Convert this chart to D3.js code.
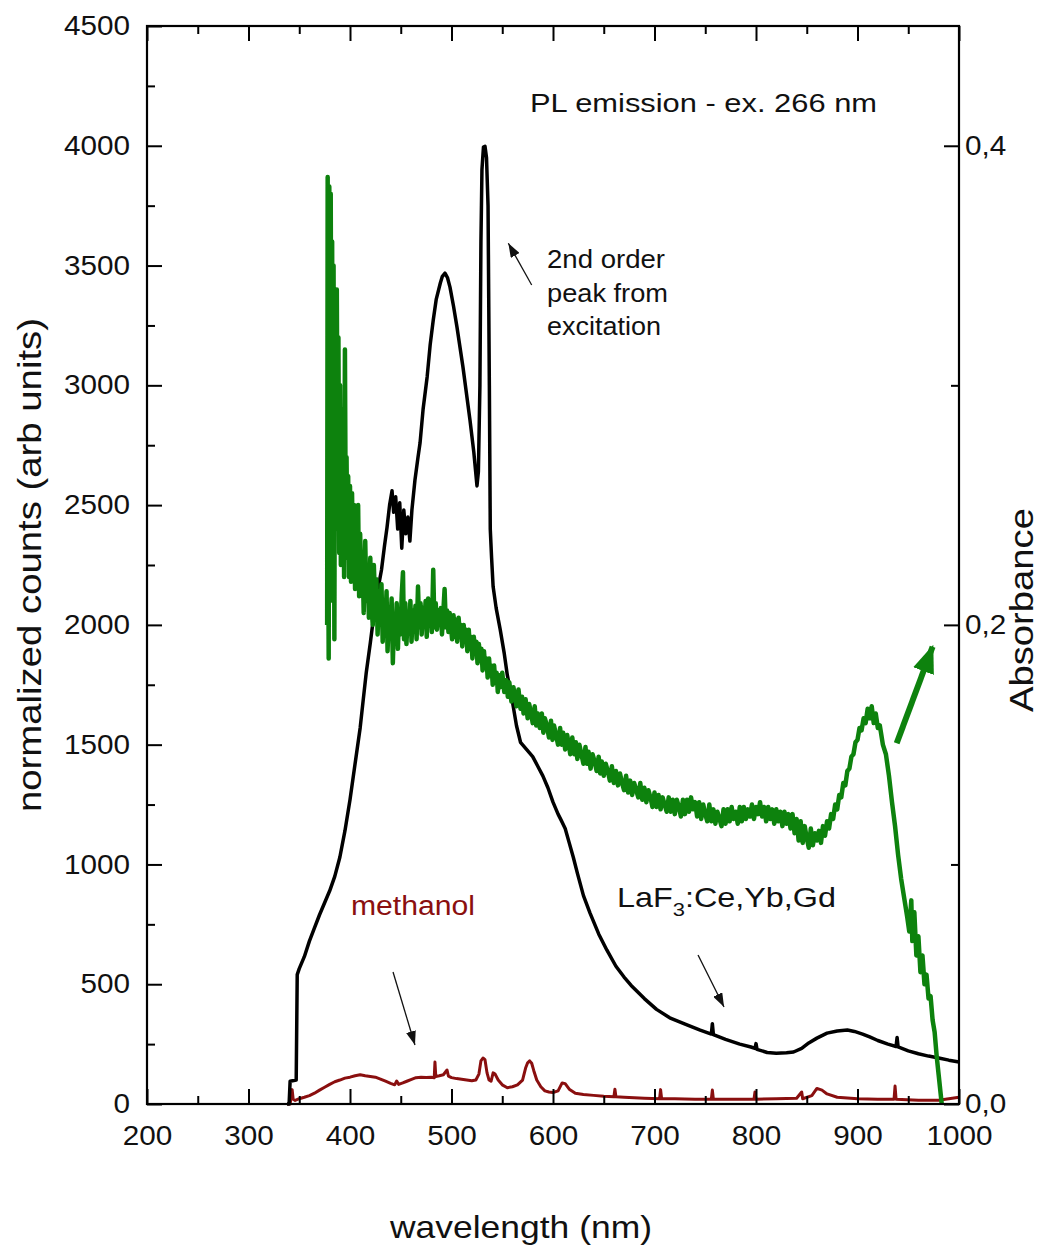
<!DOCTYPE html>
<html><head><meta charset="utf-8">
<script src="https://cdn.jsdelivr.net/npm/d3@7"></script>
<style>
body{margin:0;background:#fff;}
text{font-family:"Liberation Sans",Arial,Helvetica,sans-serif;fill:#111;}
</style>
</head><body>
<svg id="chart" width="1043" height="1251"></svg>
<script>
// ---------- DATA ----------
const wavelengthTicks = [200,300,400,500,600,700,800,900,1000];
const wavelengthMinor = [250,350,450,550,650,750,850,950];
const countTicks = [0,500,1000,1500,2000,2500,3000,3500,4000,4500];
const countMinor = [250,750,1250,1750,2250,2750,3250,3750,4250];
const absTicks = [0,0.2,0.4];
const absTickLabels = ["0,0","0,2","0,4"];
const absMinor = [0.1,0.3];

// LaF3:Ce,Yb,Gd PL emission [nm, counts]
const lafSpectrum = [[338,0],[340,0],[341,95],[347,100],[348,540],[350,565],[355,615],[360,680],[365,735],[370,790],[375,840],[380,890],[385,950],[390,1030],[395,1140],[400,1270],[405,1420],[410,1570],[413,1686],[416,1800],[420,1924],[425,2091],[428,2160],[431,2229],[434,2330],[436.5,2408],[439,2500],[441.4,2560],[443,2470],[445,2535],[447,2400],[449,2510],[451,2320],[453,2480],[455,2380],[457,2450],[459,2350],[461,2480],[464,2605],[467,2700],[469,2759],[472,2900],[476,3035],[479,3170],[482,3272],[485,3360],[489,3427],[491,3455],[493.6,3468],[496,3450],[498.5,3410],[502,3330],[505.4,3243],[511.3,3076],[518.2,2855],[522,2720],[525.1,2580],[526.5,2640],[528,3000],[529,3600],[530,3900],[531.5,3995],[533,3998],[534.5,3950],[536,3750],[537.3,3000],[538.2,2400],[539.5,2280],[541,2160],[544,2070],[548,1980],[552,1880],[555,1790],[560,1680],[564,1580],[568,1510],[572,1490],[576,1470],[580,1450],[585,1410],[590,1370],[595,1320],[600,1260],[605,1210],[608,1185],[612,1150],[616,1090],[620,1030],[624,964],[630,870],[636.5,797],[645,710],[653,643],[662,575],[670,530],[677,495],[690,440],[702,395],[715,360],[732,330],[745,308],[756,292],[757,335],[758,290],[770,270],[784,250],[795,238],[799,232],[800,252],[801,228],[811,215],[820,212],[830,214],[837,217],[845,232],[852,255],[860,275],[870,296],[880,305],[890,309],[897,303],[905,292],[912,280],[920,265],[930,250],[938,240],[939,278],[940,238],[950,222],[960,210],[970,200],[980,192],[990,183],[1000,175]];

// methanol PL [nm, counts]
const methanolSpectrum = [[338,0],[341,0],[342,30],[343,60],[344,20],[346,15],[350,22],[355,28],[360,35],[365,45],[370,58],[375,70],[380,82],[385,93],[390,100],[395,108],[400,112],[405,118],[410,122],[415,118],[420,115],[425,112],[430,104],[435,95],[440,86],[444,80],[446,96],[448,82],[452,88],[456,95],[460,102],[465,110],[470,112],[475,111],[480,112],[483,110],[483.7,175],[484.5,115],[488,118],[492,122],[495.6,142],[497,116],[500,110],[505,106],[510,103],[515,100],[520,97],[524,100],[527,125],[529,180],[531,192],[533,185],[535,130],[537,100],[539,95],[541,130],[543,125],[546,100],[550,80],[555,68],[560,72],[565,80],[570,100],[573,150],[575,172],[577,180],[579,170],[581,140],[584,100],[588,72],[592,55],[596,50],[600,48],[605,55],[609,88],[612,85],[616,62],[622,45],[630,40],[640,36],[650,32],[660,30],[661,62],[662,30],[670,28],[680,26],[690,24],[705,22],[706,60],[707,22],[720,22],[740,20],[756,20],[757,58],[758,20],[780,20],[798,20],[799,50],[800,20],[820,22],[840,24],[845,50],[846,22],[855,35],[860,65],[865,58],[870,42],[880,28],[900,22],[920,20],[936,20],[937,75],[938,20],[960,16],[980,16],[990,22],[1000,28]];

// absorbance [nm, A]
const absorbanceSpectrum = [[377.5,0.20],[378.0,0.387],[378.6,0.23],[379.0,0.186],[379.6,0.383],[380.4,0.30],[381.0,0.38],[381.8,0.26],[382.4,0.36],[383.2,0.21],[383.8,0.35],[384.6,0.194],[385.3,0.33],[386.2,0.25],[387.0,0.34],[388.0,0.24],[388.6,0.32],[389.4,0.23],[390.2,0.30],[391.0,0.225],[391.8,0.29],[392.6,0.24],[393.4,0.27],[394.2,0.22],[395.0,0.315],[395.8,0.24],[396.6,0.27],[397.4,0.228],[398.2,0.262],[399.0,0.22],[400.0,0.258],[401.0,0.218],[402.0,0.255],[403.0,0.225],[404.0,0.25],[405.0,0.215],[406.0,0.245],[407.0,0.222],[408.0,0.25],[409.0,0.212],[410.0,0.238],[411.2,0.215],[412.4,0.228],[413.5,0.205],[415.0,0.235],[416.2,0.21],[417.5,0.224],[418.6,0.203],[420.0,0.228],[421.0,0.209],[422.4,0.2],[423.5,0.225],[425.0,0.206],[426.0,0.219],[427.2,0.196],[428.5,0.214],[429.6,0.202],[431.0,0.217],[432.2,0.193],[433.5,0.21],[434.6,0.198],[436.0,0.214],[437.0,0.189],[438.4,0.207],[439.5,0.197],[441.0,0.211],[442.2,0.184],[443.5,0.204],[444.6,0.193],[446.0,0.209],[447.2,0.19],[448.4,0.206],[449.6,0.196],[451.0,0.213],[452.2,0.222],[453.2,0.194],[454.5,0.209],[455.6,0.192],[457.0,0.205],[458.2,0.197],[459.5,0.21],[460.6,0.193],[462.0,0.206],[463.2,0.198],[464.5,0.208],[465.6,0.194],[467.0,0.216],[468.2,0.199],[469.5,0.209],[470.6,0.196],[472.0,0.207],[473.2,0.2],[474.5,0.21],[475.6,0.195],[477.0,0.211],[478.2,0.201],[479.5,0.208],[480.6,0.197],[482.0,0.223],[483.2,0.199],[484.5,0.209],[485.6,0.198],[487.0,0.206],[488.2,0.2],[489.5,0.207],[490.6,0.196],[492.0,0.206],[493.2,0.215],[494.5,0.199],[495.6,0.206],[497.0,0.197],[498.2,0.205],[499.5,0.199],[500.6,0.194],[502.0,0.204],[503.2,0.195],[504.5,0.202],[505.6,0.193],[507.0,0.203],[508.2,0.196],[509.5,0.2],[510.6,0.191],[512.0,0.2],[513.2,0.193],[514.5,0.198],[515.6,0.189],[517.0,0.198],[518.2,0.19],[519.5,0.195],[520.6,0.186],[522.0,0.195],[523.2,0.188],[524.5,0.193],[525.6,0.184],[527.0,0.192],[528.2,0.185],[529.5,0.19],[530.6,0.181],[532.0,0.189],[533.2,0.182],[534.5,0.186],[535.6,0.178],[537.0,0.186],[538.2,0.179],[539.5,0.183],[540.6,0.175],[542.0,0.183],[543.2,0.176],[544.5,0.18],[545.6,0.172],[547.0,0.179],[548,0.174],[550,0.180],[552,0.172],[554,0.177],[555.5,0.170],[557,0.176],[559,0.168],[561,0.174],[562.5,0.170],[564,0.166],[566,0.173],[568,0.165],[569.5,0.170],[571,0.163],[573,0.169],[575,0.161],[576.5,0.167],[578,0.164],[580,0.159],[582,0.166],[583.5,0.158],[585,0.163],[587,0.157],[589,0.163],[590.5,0.155],[592,0.161],[594,0.158],[596,0.153],[598,0.160],[599.5,0.152],[601,0.158],[603,0.154],[605,0.150],[607,0.157],[608.5,0.150],[610,0.155],[612,0.148],[614,0.154],[615.5,0.150],[617,0.146],[619,0.153],[621,0.146],[622.5,0.151],[624,0.144],[626,0.150],[628,0.146],[630,0.142],[632,0.149],[633.5,0.142],[635,0.147],[637,0.140],[639,0.146],[641,0.143],[643,0.139],[645,0.145],[646.5,0.138],[648,0.143],[650,0.137],[652,0.142],[654,0.139],[656,0.135],[658,0.141],[660,0.134],[662,0.139],[664,0.133],[666,0.138],[668,0.134],[670,0.131],[672,0.137],[674,0.130],[676,0.135],[678,0.129],[680,0.134],[682,0.131],[684,0.128],[686,0.134],[688,0.127],[690,0.132],[692,0.126],[694,0.131],[696,0.128],[698,0.124],[700,0.130],[702,0.124],[704,0.129],[706,0.123],[708,0.128],[710,0.125],[712,0.122],[714,0.128],[716,0.122],[718,0.127],[720,0.121],[722,0.127],[724,0.124],[726,0.120],[728,0.127],[730,0.121],[732,0.127],[734,0.122],[736,0.128],[738,0.123],[740,0.126],[742,0.120],[744,0.126],[746,0.119],[748,0.125],[750,0.121],[752,0.118],[754,0.125],[756,0.118],[758,0.123],[760,0.117],[762,0.122],[764,0.119],[766,0.116],[768,0.123],[770,0.117],[772,0.123],[774,0.118],[776,0.124],[778,0.119],[780,0.122],[782,0.117],[784,0.124],[786,0.118],[788,0.124],[790,0.119],[792,0.123],[794,0.120],[796,0.125],[798,0.119],[800,0.124],[802,0.121],[804,0.126],[806,0.120],[808,0.124],[810,0.118],[812,0.124],[814,0.119],[816,0.123],[818,0.117],[820,0.123],[822,0.118],[824,0.122],[826,0.116],[828,0.122],[830,0.117],[832,0.121],[834,0.115],[836,0.121],[838,0.113],[840,0.119],[842,0.110],[844,0.118],[846,0.109],[848,0.116],[850,0.111],[852,0.107],[854,0.115],[856,0.108],[858,0.113],[860,0.110],[862,0.114],[864,0.109],[866,0.116],[868,0.112],[870,0.118],[872,0.115],[874,0.121],[876,0.119],[878,0.125],[880,0.123],[882,0.129],[884,0.128],[886,0.134],[888,0.133],[890,0.139],[892,0.140],[894,0.145],[896,0.146],[898,0.151],[900,0.152],[902,0.157],[904,0.156],[906,0.161],[908,0.159],[910,0.165],[912,0.161],[914,0.166],[916,0.159],[918,0.163],[920,0.157],[922,0.158],[925,0.150],[928,0.146],[931,0.137],[934,0.126],[937,0.116],[940,0.104],[943,0.094],[946,0.086],[949,0.078],[951,0.072],[953,0.085],[954,0.068],[956,0.080],[958,0.062],[960,0.070],[962,0.055],[964,0.062],[966,0.050],[968,0.054],[970,0.044],[972,0.045],[974,0.035],[976,0.03],[978,0.02],[980,0.012],[982,0.004],[983,0.0]];

// ---------- LAYOUT ----------
const svg = d3.select("#chart");
const L = 147, R = 959, T = 26, B = 1104;
const x = d3.scaleLinear().domain([200,1000]).range([L,R]);
const y = d3.scaleLinear().domain([0,4500]).range([B,T]);
const yR = d3.scaleLinear().domain([0,0.45]).range([B,T]);

const RED = "#8a0f0f", GREEN = "#0d820d";

function stretch(sel, f){ sel.each(function(){ const w=this.getComputedTextLength(); this.setAttribute("textLength", w*f); this.setAttribute("lengthAdjust","spacingAndGlyphs"); }); }
function fitTo(sel, w){ sel.attr("textLength", w).attr("lengthAdjust","spacingAndGlyphs"); }

// arrow markers
const defs = svg.append("defs");
defs.append("marker").attr("id","thin").attr("markerUnits","userSpaceOnUse")
  .attr("viewBox","0 0 14 10").attr("refX",14).attr("refY",5)
  .attr("markerWidth",14).attr("markerHeight",10).attr("orient","auto")
  .append("path").attr("d","M0,0 L14,5 L0,10 Z").attr("fill","#111");
defs.append("marker").attr("id","thick").attr("markerUnits","userSpaceOnUse")
  .attr("viewBox","0 0 28 22").attr("refX",26).attr("refY",11)
  .attr("markerWidth",28).attr("markerHeight",22).attr("orient","auto")
  .append("path").attr("d","M0,0 L28,11 L0,22 Z").attr("fill",GREEN);

// ---------- SERIES ----------
const lineC = d3.line().x(d=>x(d[0])).y(d=>y(d[1]));
const lineA = d3.line().x(d=>x(d[0])).y(d=>yR(d[1]));

svg.append("path").datum(methanolSpectrum).attr("d",lineC)
  .attr("fill","none").attr("stroke",RED).attr("stroke-width",3).attr("stroke-linejoin","round");
svg.append("path").datum(lafSpectrum).attr("d",lineC)
  .attr("fill","none").attr("stroke","#000").attr("stroke-width",3.5).attr("stroke-linejoin","round");
svg.append("path").datum(absorbanceSpectrum).attr("d",lineA)
  .attr("fill","none").attr("stroke",GREEN).attr("stroke-width",4.5).attr("stroke-linejoin","round");

// ---------- AXES ----------
function styleAxis(g){ g.select(".domain").remove(); g.selectAll(".tick line").attr("stroke","#000").attr("stroke-width",2); g.selectAll("text").style("font-size","27px").attr("fill","#111"); }

svg.append("g").attr("transform",`translate(0,${B})`)
  .call(d3.axisBottom(x).tickValues(wavelengthTicks).tickSize(-15).tickPadding(22).tickFormat(d3.format("d"))).call(styleAxis);
svg.append("g").attr("transform",`translate(0,${B})`)
  .call(d3.axisBottom(x).tickValues(wavelengthMinor).tickSize(-8).tickFormat("")).call(styleAxis);
svg.append("g").attr("transform",`translate(0,${T})`)
  .call(d3.axisTop(x).tickValues(wavelengthTicks).tickSize(-15).tickFormat("")).call(styleAxis);
svg.append("g").attr("transform",`translate(0,${T})`)
  .call(d3.axisTop(x).tickValues(wavelengthMinor).tickSize(-8).tickFormat("")).call(styleAxis);
svg.append("g").attr("transform",`translate(${L},0)`)
  .call(d3.axisLeft(y).tickValues(countTicks).tickSize(-15).tickPadding(17).tickFormat(d3.format("d"))).call(styleAxis);
svg.append("g").attr("transform",`translate(${L},0)`)
  .call(d3.axisLeft(y).tickValues(countMinor).tickSize(-8).tickFormat("")).call(styleAxis);
svg.append("g").attr("transform",`translate(${R},0)`)
  .call(d3.axisRight(yR).tickValues(absTicks).tickSize(-15).tickPadding(6).tickFormat((d,i)=>absTickLabels[i])).call(styleAxis);
svg.append("g").attr("transform",`translate(${R},0)`)
  .call(d3.axisRight(yR).tickValues(absMinor).tickSize(-8).tickFormat("")).call(styleAxis);

svg.append("rect").attr("x",L).attr("y",T).attr("width",R-L).attr("height",B-T)
  .attr("fill","none").attr("stroke","#000").attr("stroke-width",2.2);

stretch(svg.selectAll(".tick text"), 1.1);

// ---------- TITLES ----------
svg.append("text").attr("x",521).attr("y",1238).attr("text-anchor","middle")
  .style("font-size","32px").text("wavelength (nm)").call(s=>fitTo(s,262));
svg.append("text").attr("transform","translate(41,565) rotate(-90)").attr("text-anchor","middle")
  .style("font-size","34px").text("normalized counts (arb units)").call(s=>fitTo(s,494));
svg.append("text").attr("transform","translate(1033,610) rotate(-90)").attr("text-anchor","middle")
  .style("font-size","34px").text("Absorbance").call(s=>fitTo(s,204));

// ---------- ANNOTATIONS ----------
svg.append("text").attr("x",530).attr("y",112).style("font-size","26px")
  .text("PL emission - ex. 266 nm").call(s=>fitTo(s,347));
[["2nd order",268,118],["peak from",302,121],["excitation",335,114]].forEach(([t,yy,w])=>{
  svg.append("text").attr("x",547).attr("y",yy).style("font-size","25px").text(t).call(s=>fitTo(s,w));
});
svg.append("text").attr("x",351).attr("y",915).style("font-size","27px").style("fill",RED)
  .text("methanol").call(s=>fitTo(s,124));
const laf = svg.append("text").attr("x",617).attr("y",907).style("font-size","28px");
laf.append("tspan").text("LaF");
laf.append("tspan").attr("dy",9).style("font-size","19px").text("3");
laf.append("tspan").attr("dy",-9).text(":Ce,Yb,Gd");
fitTo(laf,219);

// arrows (data coordinates)
const arrows = [
  {from:[579.0,3418.8], to:[556.0,3593.0]},
  {from:[442.4,551.0], to:[464.0,246.3]},
  {from:[742.9,622.0], to:[768.5,404.9]}
];
arrows.forEach(a=>{
  svg.append("line").attr("x1",x(a.from[0])).attr("y1",y(a.from[1]))
    .attr("x2",x(a.to[0])).attr("y2",y(a.to[1]))
    .attr("stroke","#111").attr("stroke-width",1.3).attr("marker-end","url(#thin)");
});
svg.append("line").attr("x1",x(938.6)).attr("y1",yR(0.1506)).attr("x2",x(974.0)).attr("y2",yR(0.1909))
  .attr("stroke",GREEN).attr("stroke-width",6).attr("marker-end","url(#thick)");
</script>
</body></html>
